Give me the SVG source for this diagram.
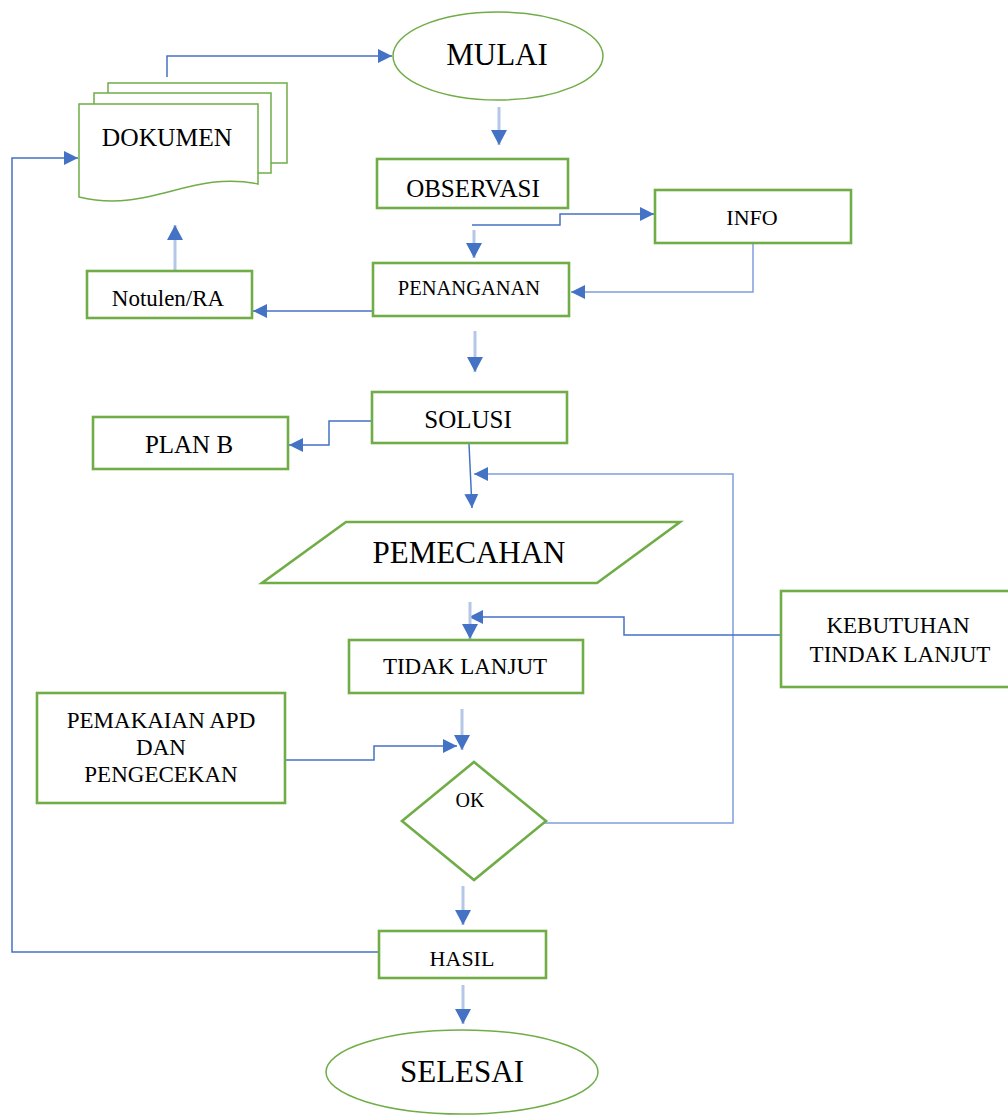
<svg xmlns="http://www.w3.org/2000/svg" width="1008" height="1115" viewBox="0 0 1008 1115">
<style>
.box{fill:#fff;stroke:#70ad47;stroke-width:2.6}
.thin{fill:#fff;stroke:#70ad47;stroke-width:1.5}
.t{font-family:"Liberation Serif","Times New Roman",serif;fill:#000;text-anchor:middle}
.ln{fill:none;stroke:#4472c4;stroke-width:1.5}
.lt{fill:none;stroke:#7f9fdb;stroke-width:1.5}
.fa{fill:none;stroke:#b4c7e7;stroke-width:3}
</style>
<defs>
<marker id="ah" viewBox="0 0 14 14" refX="14" refY="7" markerWidth="14" markerHeight="14" markerUnits="userSpaceOnUse" orient="auto">
<path d="M0,0 L14,7 L0,14 z" fill="#4472c4"/>
</marker>
<marker id="ahf" viewBox="0 0 15 16" refX="15" refY="8" markerWidth="15" markerHeight="16" markerUnits="userSpaceOnUse" orient="auto">
<path d="M0,0 L15,8 L0,16 z" fill="#4472c4"/>
</marker>
</defs>
<g id="connectors">
<path class="ln" d="M167,77 V56 H392" marker-end="url(#ah)"/>
<path class="ln" d="M379,952 H12 V158 H78" marker-end="url(#ah)"/>
<path class="ln" d="M472,225 H560 V214 H654" marker-end="url(#ah)"/>
<path class="lt" d="M753,243 V292 H571" marker-end="url(#ah)"/>
<path class="ln" d="M373,311 H253" marker-end="url(#ah)"/>
<path class="ln" d="M372,421 H329 V445 H289" marker-end="url(#ah)"/>
<path class="ln" d="M469,444 L472,508" marker-end="url(#ah)"/>
<path class="lt" d="M533,823 H733 V474 H474" marker-end="url(#ah)"/>
<path class="ln" d="M781,635 H624 V617 H469" marker-end="url(#ah)"/>
<path class="ln" d="M284,760 H374 V746 H457" marker-end="url(#ah)"/>
<path class="fa" d="M499,107 V145" marker-end="url(#ahf)"/>
<path class="fa" d="M474,230 V258" marker-end="url(#ahf)"/>
<path class="fa" d="M175,270 V225" marker-end="url(#ahf)"/>
<path class="fa" d="M475,331 V372" marker-end="url(#ahf)"/>
<path class="fa" d="M470,602 V639" marker-end="url(#ahf)"/>
<path class="fa" d="M462,709 V750" marker-end="url(#ahf)"/>
<path class="fa" d="M463,886 V925" marker-end="url(#ahf)"/>
<path class="fa" d="M463,985 V1024" marker-end="url(#ahf)"/>
</g>
<g id="mulai">
<ellipse class="thin" cx="498" cy="56" rx="105" ry="44"/>
<text class="t" x="497" y="65" font-size="31">MULAI</text>
</g>
<g id="dokumen">
<rect class="thin" x="108" y="83" width="179" height="80"/>
<rect class="thin" x="94" y="93" width="177" height="80"/>
<path class="thin" d="M79,104 H258 V184 C190,170 150,214 79,197 Z"/>
<text class="t" x="167" y="146" font-size="25.5">DOKUMEN</text>
</g>
<g id="observasi">
<rect class="box" x="377" y="159" width="191" height="49"/>
<text class="t" x="473" y="197" font-size="25">OBSERVASI</text>
</g>
<g id="info">
<rect class="box" x="655" y="190" width="196" height="53"/>
<text class="t" x="752" y="225" font-size="22">INFO</text>
</g>
<g id="penanganan">
<rect class="box" x="373" y="263" width="196" height="53"/>
<text class="t" x="469" y="295" font-size="20.5">PENANGANAN</text>
</g>
<g id="notulen">
<rect class="box" x="87" y="271" width="165" height="47"/>
<text class="t" x="168" y="306" font-size="23">Notulen/RA</text>
</g>
<g id="solusi">
<rect class="box" x="372" y="392" width="195" height="51"/>
<text class="t" x="468" y="428" font-size="25">SOLUSI</text>
</g>
<g id="planb">
<rect class="box" x="93" y="417" width="195" height="52"/>
<text class="t" x="189" y="453" font-size="25">PLAN B</text>
</g>
<g id="pemecahan">
<polygon class="box" points="346,522 680,522 597,583 262,583"/>
<text class="t" x="469" y="563" font-size="31">PEMECAHAN</text>
</g>
<g id="tidaklanjut">
<rect class="box" x="349" y="640" width="234" height="53"/>
<text class="t" x="465" y="674" font-size="23">TIDAK LANJUT</text>
</g>
<g id="kebutuhan">
<rect class="box" x="781" y="591" width="232" height="96"/>
<text class="t" x="898" y="633" font-size="23">KEBUTUHAN</text>
<text class="t" x="900" y="662" font-size="23">TINDAK LANJUT</text>
</g>
<g id="pemakaian">
<rect class="box" x="37" y="693" width="248" height="110"/>
<text class="t" x="161" y="728" font-size="23">PEMAKAIAN APD</text>
<text class="t" x="161" y="755" font-size="23">DAN</text>
<text class="t" x="161" y="782" font-size="23">PENGECEKAN</text>
</g>
<g id="ok">
<polygon class="box" points="474,762 546,821 474,880 402,821"/>
<text class="t" x="470" y="807" font-size="20">OK</text>
</g>
<g id="hasil">
<rect class="box" x="379" y="931" width="167" height="47"/>
<text class="t" x="462" y="966" font-size="22">HASIL</text>
</g>
<g id="selesai">
<ellipse class="thin" cx="462" cy="1072" rx="136" ry="42"/>
<text class="t" x="462" y="1082" font-size="31">SELESAI</text>
</g>
</svg>
